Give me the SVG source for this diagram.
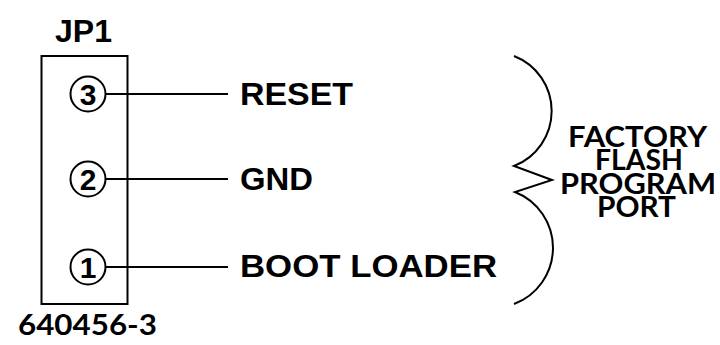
<svg xmlns="http://www.w3.org/2000/svg" width="720" height="345" viewBox="0 0 720 345">
<style>
.ln{stroke:#000;stroke-width:2;fill:none}
.lbl{font-family:"Liberation Sans",Arial,sans-serif;font-weight:bold;font-size:32px;fill:#000}
.pin{font-family:"Liberation Sans",Arial,sans-serif;font-weight:bold;font-size:30px;fill:#000;text-anchor:middle}
.geo{font-family:Lato,"Open Sans",sans-serif;font-weight:bold;font-size:29px;fill:#000}
</style>
<rect width="720" height="345" fill="#fff"/>
<g id="jp1">
<text class="lbl" x="55" y="42" font-size="25" textLength="57" lengthAdjust="spacingAndGlyphs">JP1</text>
<rect class="ln" x="41.5" y="56" width="86" height="248"/>
<text class="geo" x="18" y="335" textLength="139" lengthAdjust="spacingAndGlyphs">640456-3</text>
</g>
<g id="pin3"><circle class="ln" cx="88" cy="94" r="17.5"/><text class="pin" x="88" y="105">3</text></g>
<g id="pin2"><circle class="ln" cx="88" cy="179" r="17.5"/><text class="pin" x="88" y="190">2</text></g>
<g id="pin1"><circle class="ln" cx="88" cy="267" r="17.5"/><text class="pin" x="88" y="278">1</text></g>
<g id="connectors">
<line class="ln" x1="105.5" y1="94" x2="228" y2="94"/>
<line class="ln" x1="105.5" y1="179" x2="228" y2="179"/>
<line class="ln" x1="105.5" y1="267" x2="228" y2="267"/>
</g>
<g id="reset"><text class="lbl" x="240" y="105" textLength="113" lengthAdjust="spacingAndGlyphs">RESET</text></g>
<g id="gnd"><text class="lbl" x="240" y="190" textLength="73" lengthAdjust="spacingAndGlyphs">GND</text></g>
<g id="boot"><text class="lbl" x="240" y="277" textLength="257" lengthAdjust="spacingAndGlyphs">BOOT LOADER</text></g>
<g id="brace">
<path class="ln" d="M514,56 A59 59 0 0 1 514,166 L552,180 L515,192 A60 60 0 0 1 514,304"/>
</g>
<g id="port">
<text class="geo" x="568" y="147" textLength="139" lengthAdjust="spacingAndGlyphs">FACTORY</text>
<text class="geo" x="595" y="170" textLength="88" lengthAdjust="spacingAndGlyphs">FLASH</text>
<text class="geo" x="560" y="194" textLength="156" lengthAdjust="spacingAndGlyphs">PROGRAM</text>
<text class="geo" x="597" y="217" textLength="79" lengthAdjust="spacingAndGlyphs">PORT</text>
</g>
</svg>
